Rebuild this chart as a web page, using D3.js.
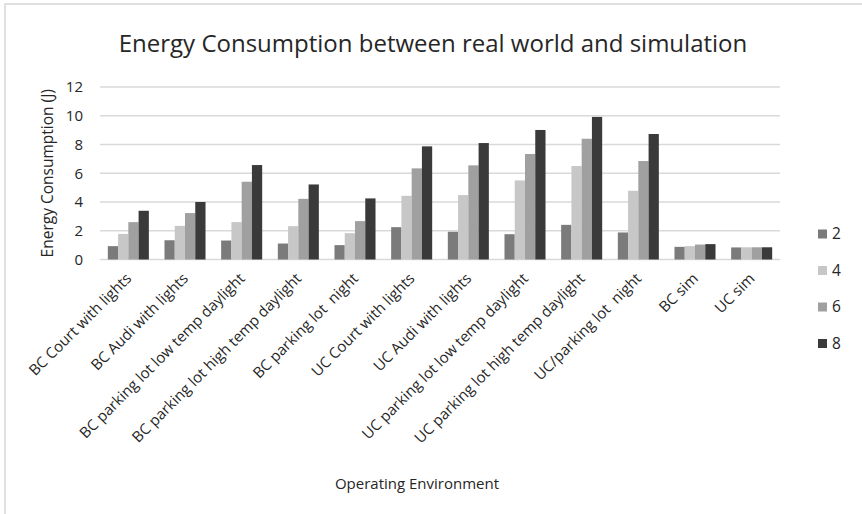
<!DOCTYPE html>
<html>
<head>
<meta charset="utf-8">
<script src="https://cdn.jsdelivr.net/npm/d3@7"></script>
<style>
  body { margin: 0; background: #fff; }
  svg { display: block; font-family: "Open Sans", sans-serif; }
  text { white-space: pre; }
</style>
</head>
<body>
<div id="chart"></div>
<script>
// categories on the x axis
const categories = [
  "BC Court with lights", "BC Audi with lights", "BC parking lot low temp daylight",
  "BC parking lot high temp daylight", "BC parking lot  night", "UC Court with lights",
  "UC Audi with lights", "UC parking lot low temp daylight", "UC parking lot high temp daylight",
  "UC/parking lot  night", "BC sim", "UC sim"
];
const seriesNames = ["2", "4", "6", "8"];
const series2 = [0.93, 1.34, 1.32, 1.11, 1.0, 2.25, 1.93, 1.76, 2.41, 1.88, 0.88, 0.84];
const series4 = [1.78, 2.34, 2.6, 2.32, 1.83, 4.43, 4.48, 5.5, 6.5, 4.78, 0.93, 0.85];
const series6 = [2.6, 3.23, 5.41, 4.22, 2.67, 6.34, 6.55, 7.34, 8.4, 6.85, 1.04, 0.85];
const series8 = [3.39, 4.0, 6.57, 5.22, 4.25, 7.87, 8.1, 9.01, 9.92, 8.73, 1.07, 0.85];
const yTicks = [0, 2, 4, 6, 8, 10, 12];
const colors = ["#7b7b7b", "#c6c7c6", "#a0a0a0", "#3a3a3a"];

const allSeries = [series2, series4, series6, series8];

const width = 862, height = 514;
const plot = { left: 100, right: 780, top: 87, bottom: 259.5 };

const svg = d3.select("#chart").append("svg")
  .attr("width", width)
  .attr("height", height);

// chart frame
svg.append("rect")
  .attr("x", 5).attr("y", 4)
  .attr("width", width + 10).attr("height", height + 10)
  .attr("fill", "none")
  .attr("stroke", "#e0e0e0")
  .attr("stroke-width", 2);

const x = d3.scaleBand()
  .domain(categories)
  .range([plot.left, plot.right])
  .paddingInner(0.276)
  .paddingOuter(0.138);

const xInner = d3.scaleBand()
  .domain(seriesNames)
  .range([0, x.bandwidth()]);

const y = d3.scaleLinear()
  .domain([0, 12])
  .range([plot.bottom, plot.top]);

// gridlines
svg.append("g")
  .selectAll("line")
  .data(yTicks)
  .join("line")
  .attr("x1", plot.left).attr("x2", plot.right)
  .attr("y1", d => y(d)).attr("y2", d => y(d))
  .attr("stroke", "#d9d9d9")
  .attr("stroke-width", 1.3);

// y axis labels
const yAxis = svg.append("g")
  .attr("transform", `translate(${plot.left - 17},0)`)
  .call(d3.axisLeft(y).tickValues(yTicks).tickSize(0).tickPadding(0));
yAxis.select(".domain").remove();
yAxis.selectAll("text")
  .attr("font-family", "Open Sans")
  .attr("font-size", 15)
  .attr("fill", "#262626");

// bars
const groups = svg.append("g")
  .selectAll("g")
  .data(categories)
  .join("g")
  .attr("transform", d => `translate(${x(d)},0)`);

groups.selectAll("rect")
  .data((c, i) => seriesNames.map((s, j) => ({ s, j, v: allSeries[j][i] })))
  .join("rect")
  .attr("x", d => xInner(d.s))
  .attr("width", xInner.bandwidth())
  .attr("y", d => y(d.v))
  .attr("height", d => y(0) - y(d.v))
  .attr("fill", d => colors[d.j]);

// x axis category labels
const xAxis = svg.append("g")
  .attr("transform", `translate(0,${plot.bottom})`)
  .call(d3.axisBottom(x).tickSize(0).tickPadding(0));
xAxis.select(".domain").remove();
xAxis.selectAll("text")
  .attr("font-family", "Open Sans")
  .attr("font-size", 15)
  .attr("fill", "#262626")
  .attr("text-anchor", "end")
  .attr("dy", null)
  .attr("y", 0)
  .attr("transform", "translate(4,20) rotate(-45)");

// title
svg.append("text")
  .attr("x", 433).attr("y", 52)
  .attr("text-anchor", "middle")
  .attr("font-size", 24)
  .attr("fill", "#262626")
  .text("Energy Consumption between real world and simulation");

// y axis title
svg.append("text")
  .attr("transform", `translate(53,${(plot.top + plot.bottom) / 2}) rotate(-90)`)
  .attr("text-anchor", "middle")
  .attr("font-size", 15.5)
  .attr("fill", "#262626")
  .text("Energy Consumption (J)");

// x axis title
svg.append("text")
  .attr("x", 417).attr("y", 489)
  .attr("text-anchor", "middle")
  .attr("font-size", 15)
  .attr("fill", "#262626")
  .text("Operating Environment");

// legend
const legend = svg.append("g")
  .selectAll("g")
  .data(seriesNames)
  .join("g")
  .attr("transform", (d, i) => `translate(818,${234 + i * 36.5})`);

legend.append("rect")
  .attr("x", 0).attr("y", -4.5)
  .attr("width", 9).attr("height", 9)
  .attr("fill", (d, i) => colors[i]);

legend.append("text")
  .attr("x", 14).attr("y", 0)
  .attr("dy", "0.35em")
  .attr("font-size", 15.5)
  .attr("fill", "#262626")
  .text(d => d);
</script>
</body>
</html>
